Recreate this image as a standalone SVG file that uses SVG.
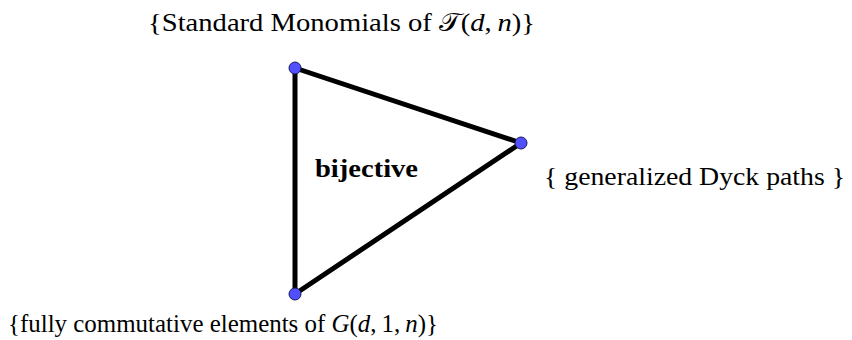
<svg xmlns="http://www.w3.org/2000/svg" width="852" height="340" viewBox="0 0 852 340">
<style>
text{font-family:"Liberation Serif","DejaVu Serif",serif;font-size:25px;fill:#000}
.m{font-style:italic}
.e{stroke:#000;stroke-width:5;stroke-linecap:round}
.n{fill:#5050ff;stroke:#1a1a5a;stroke-width:1}
</style>
<rect width="852" height="340" fill="#fff"/>
<g id="connectors">
<line class="e" x1="295" y1="68" x2="521" y2="143"/>
<line class="e" x1="521" y1="143" x2="295" y2="294"/>
<line class="e" x1="295" y1="294" x2="295" y2="68"/>
</g>
<g id="node-top"><circle class="n" cx="295" cy="68" r="6"/><text x="148" y="31" textLength="387" lengthAdjust="spacingAndGlyphs">{Standard Monomials of <tspan>𝒯</tspan>(<tspan class="m">d</tspan>,&#8201;<tspan class="m">n</tspan>)}</text></g>
<g id="node-right"><circle class="n" cx="521" cy="143" r="6"/><text x="544" y="185" textLength="301" lengthAdjust="spacingAndGlyphs">{ generalized Dyck paths }</text></g>
<g id="node-bottom"><circle class="n" cx="295" cy="294" r="6"/><text x="8" y="332" textLength="430" lengthAdjust="spacingAndGlyphs">{fully commutative elements of <tspan class="m">G</tspan>(<tspan class="m">d</tspan>,&#8201;1,&#8201;<tspan class="m">n</tspan>)}</text></g>
<g id="label"><text x="315" y="177" font-weight="bold" font-size="24" textLength="103" lengthAdjust="spacingAndGlyphs">bijective</text></g>
</svg>
